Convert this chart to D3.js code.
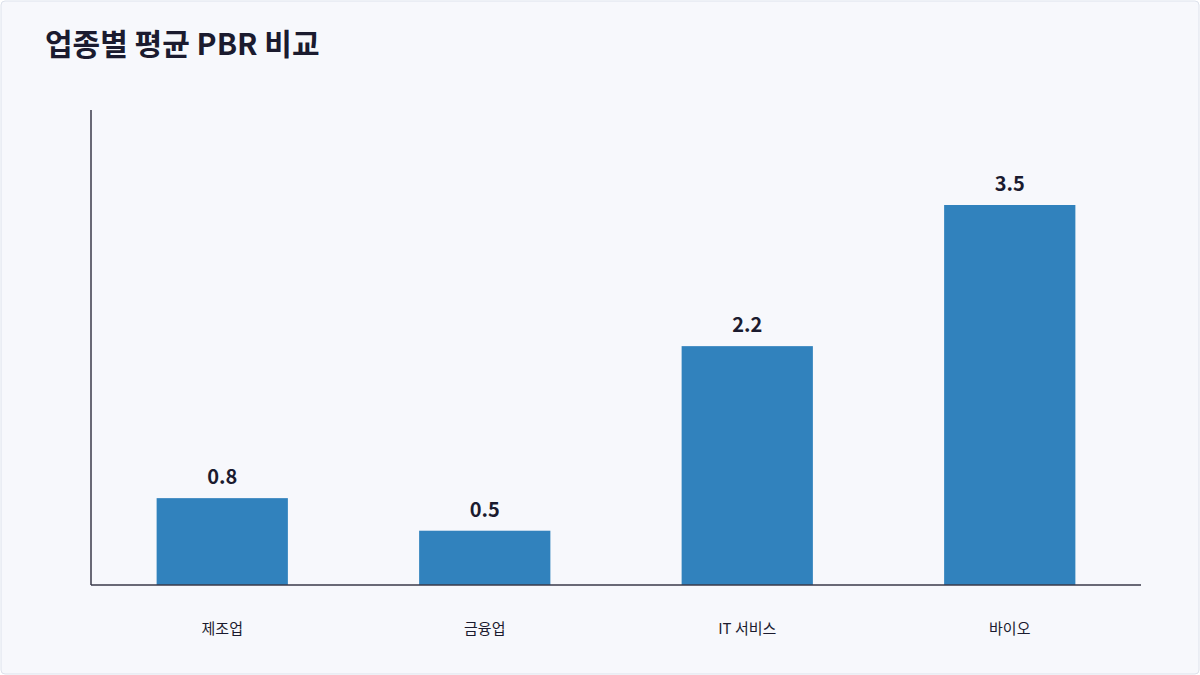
<!DOCTYPE html>
<html><head><meta charset="utf-8">
<script src="https://cdn.jsdelivr.net/npm/d3@7"></script>
<style>body{margin:0;background:#fff}svg{display:block}text{font-family:"Noto Sans CJK KR","Noto Sans",sans-serif}</style>
</head><body><svg id="c" width="1200" height="675"></svg>
<script>
var categories = ["제조업", "금융업", "IT 서비스", "바이오"];
var pbrValues = [0.8, 0.5, 2.2, 3.5];
var titleText = "업종별 평균 PBR 비교";

var svg = d3.select("#c");
svg.append("rect").attr("x", 1).attr("y", 1).attr("width", 1198).attr("height", 673)
	.attr("rx", 4).attr("fill", "#f7f8fc").attr("stroke", "#dde2ec");
svg.append("text").attr("x", 45).attr("y", 55).attr("font-size", 30).attr("font-weight", 700)
	.attr("fill", "#1b1b2f").text(titleText);

var x = d3.scaleBand().domain(categories).range([91, 1141]).paddingInner(0.5).paddingOuter(0.25);
var y = d3.scaleLinear().domain([0, d3.max(pbrValues) * 1.25]).range([585, 110]);

// bars
svg.selectAll("rect.bar").data(pbrValues).enter().append("rect").attr("class", "bar")
	.attr("x", function(d, i) { return x(categories[i]); })
	.attr("y", function(d) { return y(d); })
	.attr("width", x.bandwidth())
	.attr("height", function(d) { return y(0) - y(d); })
	.attr("fill", "#3182bd");

// value labels
svg.selectAll("text.val").data(pbrValues).enter().append("text").attr("class", "val")
	.attr("x", function(d, i) { return x(categories[i]) + x.bandwidth() / 2; })
	.attr("y", function(d) { return y(d) - 14; })
	.attr("text-anchor", "middle").attr("font-size", 20).attr("font-weight", 700)
	.attr("fill", "#1b1b2f").text(function(d) { return d.toFixed(1); });

// axes
var xa = svg.append("g").attr("transform", "translate(0,585)")
	.call(d3.axisBottom(x).tickSize(0).tickPadding(38));
xa.select(".domain").attr("stroke", "#3a3a4a").attr("stroke-width", 1.5).attr("d", "M91,0H1141");
xa.selectAll("text").attr("font-size", 15).attr("fill", "#1b1b2f");

svg.append("line").attr("x1", 91).attr("x2", 91).attr("y1", 110).attr("y2", 585)
	.attr("stroke", "#3a3a4a").attr("stroke-width", 1.5);
</script></body></html>
